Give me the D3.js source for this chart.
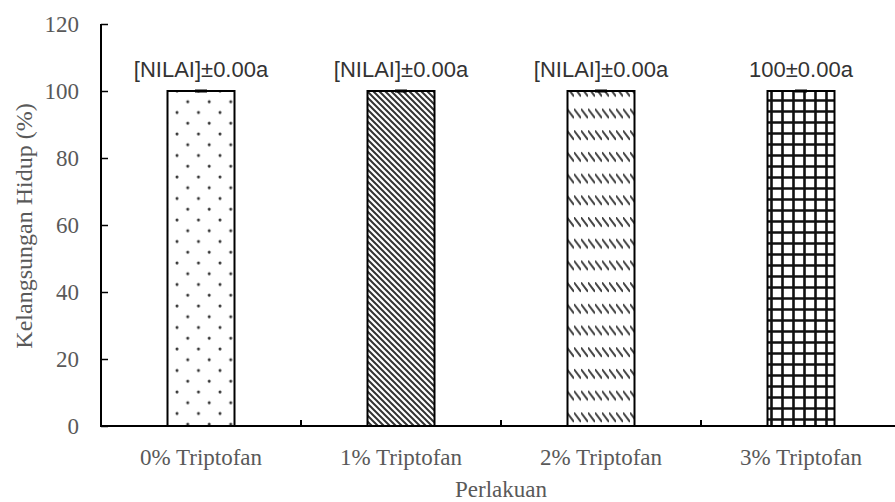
<!DOCTYPE html>
<html>
<head>
<meta charset="utf-8">
<script src="https://cdn.jsdelivr.net/npm/d3@7"></script>
<style>
  body { margin: 0; background: #fff; }
  svg { display: block; }
</style>
</head>
<body>
<svg id="chart"></svg>
<script>
// data
var categories = ["0% Triptofan", "1% Triptofan", "2% Triptofan", "3% Triptofan"];
var values = [100, 100, 100, 100];
var errors = [0, 0, 0, 0];
var barLabels = ["[NILAI]\u00b10.00a", "[NILAI]\u00b10.00a", "[NILAI]\u00b10.00a", "100\u00b10.00a"];
var patterns = ["dots", "diag", "dash", "grid"];
var yTicks = [0, 20, 40, 60, 80, 100, 120];

var width = 895, height = 502;
var serif = "'Liberation Serif', 'Times New Roman', serif";
var svg = d3.select("#chart").attr("width", width).attr("height", height);

var x = d3.scaleBand().domain(categories).range([101, 901])
          .paddingInner(0.665).paddingOuter(0.3325);
var y = d3.scaleLinear().domain([0, 120]).range([426, 24]);

// fill patterns
var defs = svg.append("defs");

var p = defs.append("pattern").attr("id", "dots").attr("patternUnits", "userSpaceOnUse")
            .attr("width", 21.5).attr("height", 21.5);
p.append("circle").attr("cx", 5).attr("cy", 5).attr("r", 1.5).attr("fill", "#333");
p.append("circle").attr("cx", 15.75).attr("cy", 15.75).attr("r", 1.5).attr("fill", "#333");

p = defs.append("pattern").attr("id", "diag").attr("patternUnits", "userSpaceOnUse")
        .attr("width", 6).attr("height", 6);
p.append("path").attr("d", "M-1,-1L7,7M-7,-1L1,7M5,-1L13,7")
 .attr("stroke", "#333").attr("stroke-width", 2);

p = defs.append("pattern").attr("id", "dash").attr("patternUnits", "userSpaceOnUse")
        .attr("width", 7).attr("height", 21.7);
p.append("path").attr("d", "M0.5,1L6.5,9")
 .attr("stroke", "#444").attr("stroke-width", 2).attr("stroke-linecap", "round");

p = defs.append("pattern").attr("id", "grid").attr("patternUnits", "userSpaceOnUse")
        .attr("width", 11).attr("height", 11);
p.append("path").attr("d", "M1.5,0V11M0,1.5H11")
 .attr("stroke", "#111").attr("stroke-width", 2.6);

// bars
svg.selectAll("rect.bar").data(categories).enter().append("rect")
   .attr("class", "bar")
   .attr("x", function(d) { return x(d); })
   .attr("y", function(d, i) { return y(values[i]); })
   .attr("width", x.bandwidth())
   .attr("height", function(d, i) { return y(0) - y(values[i]); })
   .attr("fill", function(d, i) { return "url(#" + patterns[i] + ")"; })
   .attr("stroke", "#000").attr("stroke-width", 2);

// error bars (zero, so only the cap shows)
svg.selectAll("line.err").data(categories).enter().append("line")
   .attr("x1", function(d) { return x(d) + x.bandwidth() / 2 - 6; })
   .attr("x2", function(d) { return x(d) + x.bandwidth() / 2 + 6; })
   .attr("y1", function(d, i) { return y(values[i] + errors[i]); })
   .attr("y2", function(d, i) { return y(values[i] + errors[i]); })
   .attr("stroke", "#000").attr("stroke-width", 3);

// value labels
svg.selectAll("text.lbl").data(categories).enter().append("text")
   .attr("x", function(d) { return x(d) + x.bandwidth() / 2; })
   .attr("y", function(d, i) { return y(values[i]) - 14; })
   .attr("text-anchor", "middle")
   .style("font-family", "'Liberation Sans', Arial, sans-serif")
   .style("font-size", "22px")
   .attr("fill", "#333")
   .text(function(d, i) { return barLabels[i]; });

// y axis
var yAxis = svg.append("g").attr("transform", "translate(101,0)")
   .call(d3.axisRight(y).tickValues(yTicks).tickSize(7).tickFormat(d3.format("d")));
yAxis.select(".domain").attr("stroke-width", 2).attr("d", "M0,24V427");
yAxis.selectAll(".tick line").attr("stroke-width", 1.5);
yAxis.selectAll(".tick text").attr("x", -22).attr("text-anchor", "end")
   .style("font-family", serif)
   .style("font-size", "23px").attr("fill", "#595959");

// x axis
var xAxis = svg.append("g").attr("transform", "translate(0,426)")
   .call(d3.axisBottom(x).tickSize(0).tickPadding(23));
xAxis.select(".domain").attr("stroke-width", 2).attr("d", "M100,0H901");
xAxis.selectAll(".tick text")
   .style("font-family", serif)
   .style("font-size", "23px").attr("fill", "#595959");
var bounds = categories.map(function(d) { return x(d) - x.step() * x.paddingInner() / 2; }).slice(1);
xAxis.selectAll("line.sep").data(bounds).enter().append("line")
   .attr("x1", function(d) { return d; }).attr("x2", function(d) { return d; })
   .attr("y1", 0).attr("y2", -6).attr("stroke", "#000").attr("stroke-width", 2);

// axis titles
svg.append("text").attr("x", 501).attr("y", 497).attr("text-anchor", "middle")
   .style("font-family", serif)
   .style("font-size", "23px").attr("fill", "#595959").text("Perlakuan");
svg.append("text").attr("transform", "translate(32,226) rotate(-90)").attr("text-anchor", "middle")
   .style("font-family", serif)
   .style("font-size", "24px").attr("fill", "#595959").text("Kelangsungan Hidup (%)");
</script>
</body>
</html>
